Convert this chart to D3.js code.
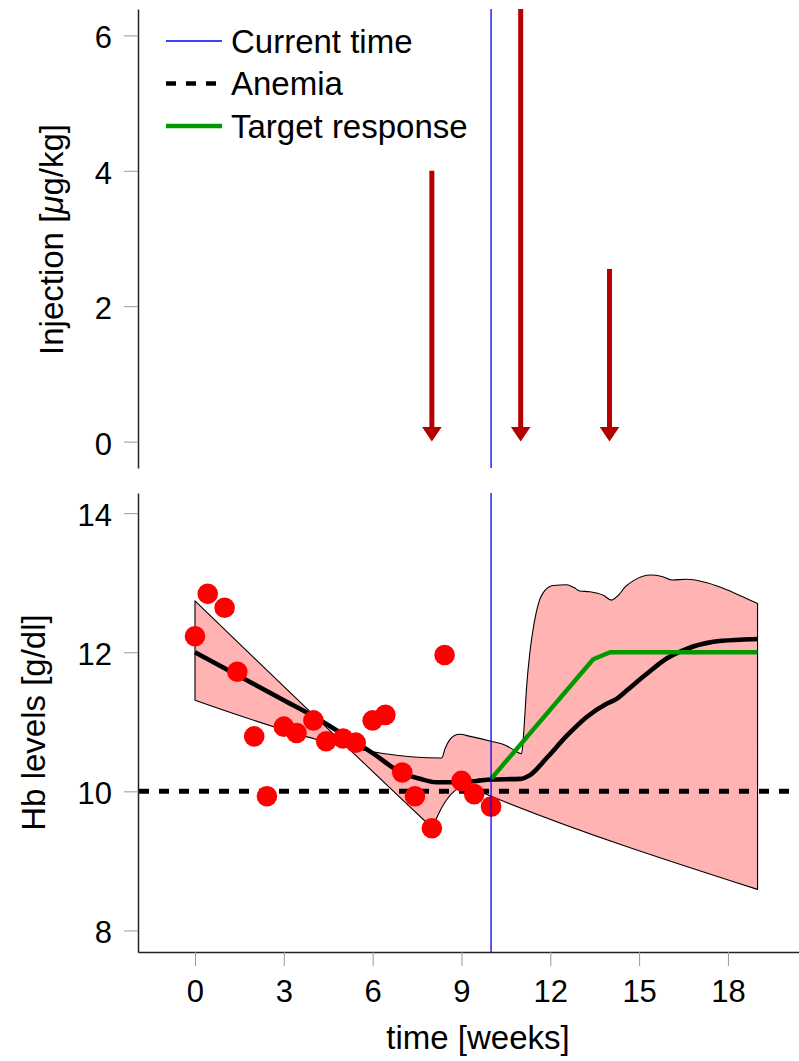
<!DOCTYPE html>
<html><head><meta charset="utf-8">
<script src="https://cdn.jsdelivr.net/npm/d3@7"></script>
<style>
body{margin:0;background:#fff}
svg{display:block}
text{font-family:"Liberation Sans",Arial,Helvetica,sans-serif;fill:#000}
</style>
</head><body>
<svg id="chart" width="799" height="1061"></svg>
<script>
// ---------- data ----------
const obsWeek = [0,0.43,1,1.43,2,2.43,3,3.43,4,4.43,5,5.43,6,6.43,7,7.43,8,8.43,9,9.43,10];
const obsHb   = [12.23,12.84,12.64,11.72,10.79,9.93,10.93,10.84,11.02,10.72,10.76,10.70,11.02,11.10,10.27,9.93,9.47,11.96,10.15,9.96,9.78];

const meanWeek = [0,1,2,3,4,5,6,7,7.6,8.16,8.72,9.5,10,11,11.3,11.9,12.56,13.23,13.9,14.24,14.58,15.26,15.93,16.61,17.51,18.41,19];
const meanHb   = [12.0,11.77,11.54,11.31,11.08,10.82,10.55,10.26,10.18,10.13,10.13,10.15,10.17,10.18,10.23,10.49,10.80,11.07,11.26,11.33,11.45,11.69,11.91,12.05,12.15,12.18,12.19];

// band edge that starts high at week 0 (becomes the lower edge later)
const bandAWeek = [0,7.9,8.0,8.12,8.3,8.5,8.75,9.0,9.3,9.6,10,19];
const bandAHb   = [12.74,9.52,9.48,9.58,9.74,9.88,10.0,10.06,10.05,10.0,9.93,8.59];
// band edge that starts low at week 0 (becomes the upper edge later)
const bandBWeek = [0,8.33,8.45,8.6,8.75,8.95,9.3,10,10.5,10.75,11.03,11.08,11.15,11.2,11.32,11.43,11.6,11.82,12.1,12.55,12.8,13.0,13.34,13.79,14.07,14.3,14.53,14.81,15.1,15.4,15.77,16.1,16.6,17.29,17.96,18.64,19];
const bandBHb   = [11.31,10.48,10.62,10.74,10.8,10.82,10.79,10.72,10.66,10.6,10.54,10.72,11.16,11.5,12.03,12.36,12.70,12.89,12.96,12.97,12.93,12.88,12.87,12.82,12.75,12.82,12.94,13.03,13.09,13.11,13.09,13.04,13.05,13.0,12.90,12.77,12.70];

const targetWeek = [10,13.45,14.02,19];
const targetHb   = [10.18,11.9,12.0,12.0];

const injWeek = [8,11,14];
const injDose = [4.0,7.0,2.55];

const currentWeek = 10;
const anemiaHb = 10;

const xTicks = [0,3,6,9,12,15,18];
const injTicks = [0,2,4,6];
const hbTicks = [8,10,12,14];
const legendLabels = ["Current time","Anemia","Target response"];

// ---------- layout ----------
const C = {blue:"#0000ff", green:"#009a00", red:"#ff0000", dark:"#b30000", pink:"#ffb3b3", tick:"#999999"};
const svg = d3.select("#chart");

const x = d3.scaleLinear().domain([-1.925,20.4]).range([138,799]);
const yInj = d3.scaleLinear().domain([-0.39,6.39]).range([468,9]);
const yHb = d3.scaleLinear().domain([7.69,14.29]).range([952,493]);
const fmt = d3.format("d");

const defs = svg.append("defs");
defs.append("clipPath").attr("id","clipTop").append("rect")
  .attr("x",138).attr("y",9).attr("width",661).attr("height",459);
defs.append("clipPath").attr("id","clipBot").append("rect")
  .attr("x",138).attr("y",493).attr("width",661).attr("height",459);

function styleAxis(g){
  g.select(".domain").attr("stroke","#222").attr("stroke-width",1.5);
  g.selectAll(".tick line").attr("stroke",C.tick).attr("stroke-width",1);
  g.selectAll(".tick text").attr("font-size",31).attr("fill","#000")
    .style("font-family",'"Liberation Sans",Arial,Helvetica,sans-serif');
  g.attr("font-size",null).attr("font-family",null);
}

// ---------- top panel ----------
const topG = svg.append("g");
const topPlot = topG.append("g").attr("clip-path","url(#clipTop)");

topPlot.append("line")
  .attr("x1",x(currentWeek)).attr("x2",x(currentWeek))
  .attr("y1",yInj.range()[1]).attr("y2",yInj.range()[0])
  .attr("stroke",C.blue).attr("stroke-width",1.3);

const arrows = topPlot.selectAll("g.arrow").data(injWeek.map((w,i)=>({w,d:injDose[i]})))
  .join("g").attr("class","arrow");
arrows.append("line")
  .attr("x1",d=>x(d.w)).attr("x2",d=>x(d.w))
  .attr("y1",d=>yInj(d.d)).attr("y2",yInj(0)-12)
  .attr("stroke",C.dark).attr("stroke-width",5);
arrows.append("path")
  .attr("d",d=>{
    const cx=x(d.w), ty=yInj(0);
    return `M${cx},${ty}L${cx-9.8},${ty-14.5}L${cx+9.8},${ty-14.5}Z`;
  })
  .attr("fill",C.dark);

const axInj = topG.append("g").attr("transform",`translate(${x.range()[0]},0)`)
  .call(d3.axisLeft(yInj).tickValues(injTicks).tickFormat(fmt).tickSize(14).tickSizeOuter(0).tickPadding(12));
styleAxis(axInj);
axInj.selectAll(".tick text").attr("dy","0.4em");

topG.append("text")
  .attr("transform","translate(63,239.5) rotate(-90)")
  .attr("text-anchor","middle").attr("font-size",33)
  .call(t=>{
    t.append("tspan").text("Injection [");
    t.append("tspan").attr("font-style","italic").text("μ");
    t.append("tspan").text("g/kg]");
  });

// legend
const legend = topG.append("g");
const legY = [41,83.5,126];
const legStyles = [
  {stroke:C.blue, w:1.3, dash:null},
  {stroke:"#000", w:4.5, dash:"10 10"},
  {stroke:C.green, w:4.5, dash:null}
];
legendLabels.forEach((lab,i)=>{
  legend.append("line").attr("x1",166).attr("x2",222).attr("y1",legY[i]).attr("y2",legY[i])
    .attr("stroke",legStyles[i].stroke).attr("stroke-width",legStyles[i].w)
    .attr("stroke-dasharray",legStyles[i].dash);
  legend.append("text").attr("x",231).attr("y",legY[i]+11.8)
    .attr("font-size",33).text(lab);
});

// ---------- bottom panel ----------
const botG = svg.append("g");
const botPlot = botG.append("g").attr("clip-path","url(#clipBot)");

const mono = d3.line().x(d=>x(d[0])).y(d=>yHb(d[1])).curve(d3.curveMonotoneX);
const lin = d3.line().x(d=>x(d[0])).y(d=>yHb(d[1]));

const edgeA = bandAWeek.map((w,i)=>[w,bandAHb[i]]);
const edgeB = bandBWeek.map((w,i)=>[w,bandBHb[i]]).reverse();
const bandPath = mono(edgeA) + "L" + mono(edgeB).slice(1) + "Z";
botPlot.append("path").attr("d",bandPath)
  .attr("fill",C.pink).attr("stroke","#000").attr("stroke-width",1.1).attr("stroke-linejoin","round");

botPlot.append("line")
  .attr("x1",x.range()[0]+1).attr("x2",x.range()[1])
  .attr("y1",yHb(anemiaHb)).attr("y2",yHb(anemiaHb))
  .attr("stroke","#000").attr("stroke-width",5).attr("stroke-dasharray","10 10");

botPlot.append("path").attr("d",mono(meanWeek.map((w,i)=>[w,meanHb[i]])))
  .attr("fill","none").attr("stroke","#000").attr("stroke-width",4.6).attr("stroke-linejoin","round");

botPlot.append("path").attr("d",lin(targetWeek.map((w,i)=>[w,targetHb[i]])))
  .attr("fill","none").attr("stroke",C.green).attr("stroke-width",4.4).attr("stroke-linejoin","round");

botPlot.selectAll("circle").data(obsWeek.map((w,i)=>[w,obsHb[i]])).join("circle")
  .attr("cx",d=>x(d[0])).attr("cy",d=>yHb(d[1])).attr("r",10.3).attr("fill",C.red);

botPlot.append("line")
  .attr("x1",x(currentWeek)).attr("x2",x(currentWeek))
  .attr("y1",yHb.range()[1]).attr("y2",yHb.range()[0])
  .attr("stroke",C.blue).attr("stroke-width",1.3);

const axHb = botG.append("g").attr("transform",`translate(${x.range()[0]},0)`)
  .call(d3.axisLeft(yHb).tickValues(hbTicks).tickFormat(fmt).tickSize(14).tickSizeOuter(0).tickPadding(12));
styleAxis(axHb);
axHb.selectAll(".tick text").attr("dy","0.4em");

const axX = botG.append("g").attr("transform",`translate(0,${yHb.range()[0]})`)
  .call(d3.axisBottom(x).tickValues(xTicks).tickFormat(fmt).tickSize(14).tickSizeOuter(0));
styleAxis(axX);
axX.selectAll(".tick text").attr("y",49.5).attr("dy",null);

botG.append("text")
  .attr("transform","translate(44.5,722.5) rotate(-90)")
  .attr("text-anchor","middle").attr("font-size",33).text("Hb levels [g/dl]");

botG.append("text").attr("x",478).attr("y",1048.5)
  .attr("text-anchor","middle").attr("font-size",33).text("time [weeks]");
</script>
</body></html>
